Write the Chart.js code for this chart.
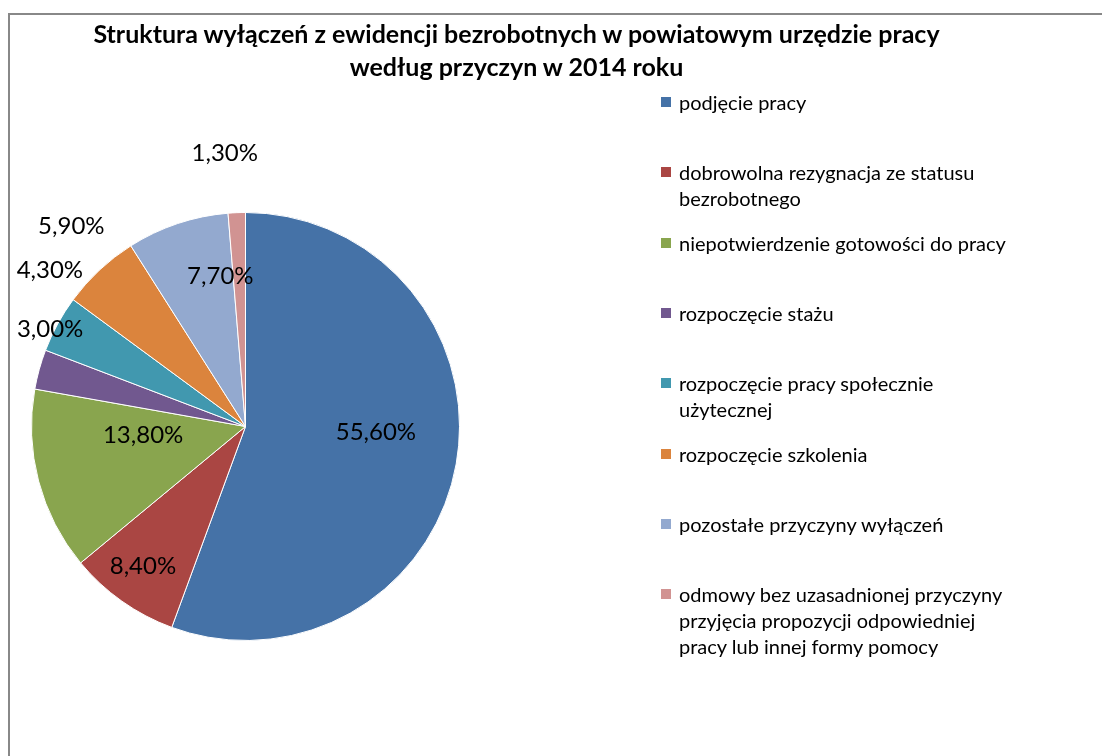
<!DOCTYPE html>
<html>
<head>
<meta charset="utf-8">
<script src="https://cdn.jsdelivr.net/npm/chart.js@4/dist/chart.umd.min.js"></script>
<style>
  html, body { margin: 0; padding: 0; background: #fff; }
  #wrap { position: relative; width: 1102px; height: 756px; overflow: hidden; }
  #frame { position: absolute; left: 8px; top: 13px; width: 1200px; height: 800px;
           border-left: 2px solid #888; border-top: 2px solid #888; }
  #pie { position: absolute; left: 0; top: 0; }
  #title { position: absolute; left: 40px; width: 953px; top: 17px; text-align: center;
           font-family: Lato, "Open Sans", sans-serif; font-weight: bold; font-size: 25px;
           line-height: 33px; color: #000; }
  .item { position: absolute; left: 661px; font-family: Lato, "Open Sans", sans-serif;
          font-size: 20px; line-height: 26px; color: #000; }
  .item .box { position: absolute; left: 0; top: 8px; width: 10px; height: 10px; }
  .item .txt { margin-left: 18px; white-space: pre; }
</style>
</head>
<body>
<div id="wrap">
  <div id="frame"></div>
  <canvas id="pie" width="1102" height="756"></canvas>
  <div id="title">Struktura wyłączeń z ewidencji bezrobotnych w powiatowym urzędzie pracy<br>według przyczyn w 2014 roku</div>
  <div id="legend"></div>
</div>
<script>
const categories = [
    'podjęcie pracy',
    'dobrowolna rezygnacja ze statusu\nbezrobotnego',
    'niepotwierdzenie gotowości do pracy',
    'rozpoczęcie stażu',
    'rozpoczęcie pracy społecznie\nużytecznej',
    'rozpoczęcie szkolenia',
    'pozostałe przyczyny wyłączeń',
    'odmowy bez uzasadnionej przyczyny\nprzyjęcia propozycji odpowiedniej\npracy lub innej formy pomocy'
];
const values = [55.6, 8.4, 13.8, 3.0, 4.3, 5.9, 7.7, 1.3];
const colors = ['#4572A7', '#AA4643', '#89A54E', '#71588F', '#4198AF', '#DB843D', '#93A9CF', '#D19392'];

// label placement: radius as fraction of pie radius, angle shift in degrees from slice middle
const labelRadius = [0.61, 0.81, 0.48, 1.02, 1.17, 1.24, 0.71, 1.28];
const labelShift = [-7.5, 1, 10, 11, 10, 2, 9, -2];

// legend
const legend = document.getElementById('legend');
categories.forEach((c, i) => {
    const d = document.createElement('div');
    d.className = 'item';
    d.style.top = (89 + i * 70.3) + 'px';
    d.innerHTML = '<span class="box" style="background:' + colors[i] + '"></span><div class="txt"></div>';
    d.querySelector('.txt').textContent = c;
    legend.appendChild(d);
});

const pctLabels = {
    id: 'pctLabels',
    afterDatasetsDraw(chart) {
        const ctx = chart.ctx;
        const meta = chart.getDatasetMeta(0);
        ctx.save();
        ctx.font = '24px Lato, "Open Sans", sans-serif';
        ctx.fillStyle = '#000';
        ctx.textAlign = 'center';
        ctx.textBaseline = 'middle';
        meta.data.forEach((arc, i) => {
            const p = arc.getProps(['x', 'y', 'startAngle', 'endAngle', 'outerRadius'], true);
            const a = (p.startAngle + p.endAngle) / 2 + labelShift[i] * Math.PI / 180;
            const r = p.outerRadius * labelRadius[i];
            const txt = values[i].toFixed(2).replace('.', ',') + '%';
            ctx.fillText(txt, p.x + Math.cos(a) * r, p.y + Math.sin(a) * r);
        });
        ctx.restore();
    }
};

const ctx = document.getElementById('pie').getContext('2d');
new Chart(ctx, {
    type: 'pie',
    data: {
        labels: categories,
        datasets: [{
            data: values,
            backgroundColor: colors,
            borderColor: '#fff',
            borderWidth: 1
        }]
    },
    options: {
        responsive: false,
        animation: false,
        layout: { padding: { left: 31, top: 212, right: 642, bottom: 115 } },
        plugins: {
            legend: { display: false },
            title: { display: false },
            tooltip: { enabled: false }
        }
    },
    plugins: [pctLabels]
});
</script>
</body>
</html>
